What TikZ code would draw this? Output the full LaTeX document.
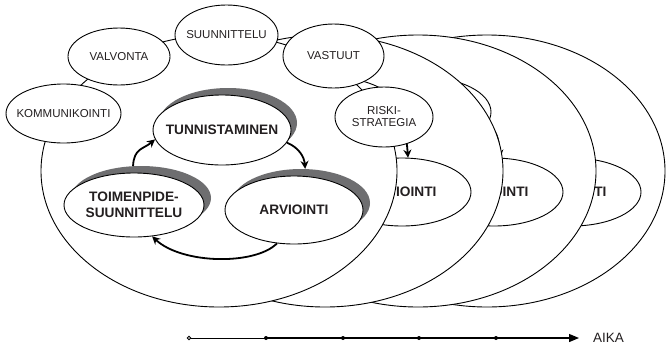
\documentclass[tikz,border=0pt]{standalone}
\usepackage{fontspec}
\setmainfont{Liberation Sans}
\usetikzlibrary{shapes.geometric,arrows.meta}
\definecolor{shadowgray}{RGB}{110,110,112}
\definecolor{txt}{RGB}{35,31,32}
\begin{document}
\begin{tikzpicture}[x=1pt,y=-1pt,
  big/.style={ellipse,draw,fill=white,line width=0.9pt,inner xsep=-60pt,inner ysep=-30pt,minimum width=356pt,minimum height=272pt},
  lbl/.style={ellipse,draw,fill=white,line width=0.9pt,inner xsep=-40pt,inner ysep=-20pt,text=txt,font=\fontsize{11.5}{12}\selectfont,align=center},
  cyc/.style={ellipse,draw,fill=white,line width=0.9pt,inner xsep=-40pt,inner ysep=-20pt,minimum width=138pt,minimum height=68pt,text=txt,font=\bfseries\fontsize{13.7}{16}\selectfont,align=center},
  shad/.style={ellipse,fill=shadowgray,inner xsep=-40pt,inner ysep=-20pt,minimum width=138pt,minimum height=68pt},
  flow/.style={line width=1.8pt,-{Stealth[length=8pt,width=8pt]}},
]
\useasboundingbox (0,0) rectangle (666,349);
\fill[white] (0,0) rectangle (666,349);

% back layers
\foreach \i/\cx/\dx in {4/487/278,3/418/200,2/325/108}{
  \node[big] (L\i) at (\cx,171) {};
  \begin{scope}[shift={(\dx,-18)}]
    \node[cyc,minimum height=70pt] (tun\i) at (222,130) {TUNNISTAMINEN};
    \node[cyc] (arv\i) at (294,210) {ARVIOINTI};
    \draw[flow] (tun\i.349) .. controls +(12,5) and +(-1,-12) .. (arv\i.80);
  \end{scope}
}

% front layer
\node[big] (L1) at (219,171) {};
\node[shad,minimum width=140pt,minimum height=64pt] (toiS) at (141,198) {};
\node[cyc,minimum width=140pt,minimum height=64pt] (toi) at (134,205) {TOIMENPIDE-\\SUUNNITTELU};
\node[shad,minimum height=70pt] (tunS) at (228,123) {};
\node[cyc,minimum height=70pt] (tun) at (222,130) {TUNNISTAMINEN};
\node[shad] (arvS) at (301,203) {};
\node[cyc] (arv) at (294,210) {ARVIOINTI};
\draw[flow] (toiS.104) .. controls +(1,-18) and +(-12,10) .. (tun.188);
\draw[flow] (tun.349) .. controls +(12,5) and +(-1,-12) .. (arvS.83);
\draw[flow] (arv.243) .. controls +(-22,22) and +(30,28) .. (toi.300);

% top labels
\node[lbl,minimum width=115pt,minimum height=59pt] (kom) at (63.5,113.5) {KOMMUNIKOINTI};
\node[lbl,minimum width=102pt,minimum height=57pt] (val) at (119,56.5) {VALVONTA};
\node[lbl,minimum width=103pt,minimum height=60pt] (suu) at (226.5,35) {SUUNNITTELU};
\node[lbl,minimum width=101pt,minimum height=64pt] (vas) at (333.5,56) {VASTUUT};
\node[lbl,minimum width=98pt,minimum height=60pt] (ris) at (384,117) {RISKI-\\STRATEGIA};

% time axis
\coordinate (a0) at (189,338);
\coordinate (a1) at (266,338);
\coordinate (a2) at (343,338);
\coordinate (a3) at (419,338);
\coordinate (a4) at (496,338);
\coordinate (a5) at (579,338);
\draw[line width=1pt] (a0) -- (a1);
\draw[line width=2.6pt] (a1) -- (a4);
\draw[line width=1.2pt,-{Triangle[length=10pt,width=8pt]}] (a4) -- (a5);
\foreach \k in {1,...,4} \fill (a\k) circle[radius=2pt];
\draw[fill=white,line width=0.8pt] (a0) circle[radius=1.8pt];
\node[font=\fontsize{13.5}{14}\selectfont,text=txt,anchor=west,inner sep=0pt] (aika) at (593,338) {AIKA};
\end{tikzpicture}
\end{document}
